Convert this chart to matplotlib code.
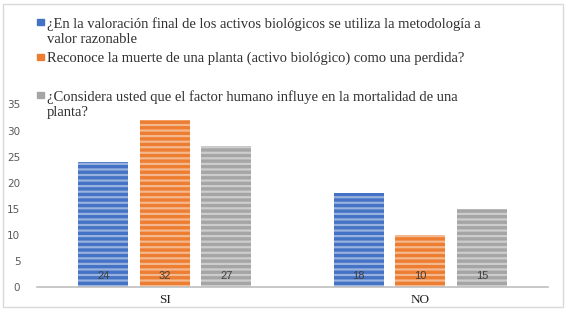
import numpy as np
import matplotlib.pyplot as plt
import matplotlib.patches as mpatches

# respuestas por pregunta
categories = ['SI', 'NO']
series = [
    '¿En la valoración final de los activos biológicos se utiliza la metodología a\nvalor razonable',
    'Reconoce la muerte de una planta (activo biológico) como una perdida?',
    '¿Considera usted que el factor humano influye en la mortalidad de una\nplanta?',
]
values = [
    [24, 18],
    [32, 10],
    [27, 15],
]
colors = ['#4472C4', '#ED7D31', '#A5A5A5']

plt.rcParams['hatch.linewidth'] = 1.6

fig = plt.figure(figsize=(5.66, 3.12), dpi=100)
fig.patches.append(mpatches.Rectangle((3 / 566, 5 / 312), 560 / 566, 303 / 312,
                                      transform=fig.transFigure, fill=False,
                                      edgecolor='#D9D9D9', linewidth=1))

ax = fig.add_axes([37 / 566, 1 - 287 / 312, 511 / 566, (287 - 104.5) / 312])

x = np.arange(len(categories))
width = 0.196
step = 0.241
for i, (vals, c) in enumerate(zip(values, colors)):
    pos = x + (i - 1) * step
    bars = ax.bar(pos, vals, width, color=c, edgecolor=(1, 1, 1, 0.45),
                  linewidth=0, hatch='---')
    for b, v in zip(bars, vals):
        ax.annotate(str(v), (b.get_x() + b.get_width() / 2, 0), xytext=(0, 4),
                    textcoords='offset points', ha='center', va='bottom',
                    fontsize=8, color='#404040', family='Liberation Sans')

ax.set_xlim(-0.5, 1.5)
ax.set_ylim(0, 35)
ax.set_yticks(range(0, 36, 5))
ax.set_xticks(x)
ax.set_xticklabels(categories, family='Liberation Serif', fontsize=9.5, color='#202020')
ax.tick_params(axis='y', length=0, labelsize=7.5, labelcolor='#595959', pad=12)
ax.tick_params(axis='x', length=0, pad=5)
for s in ['top', 'right', 'left']:
    ax.spines[s].set_visible(False)
ax.spines['bottom'].set_color('#BFBFBF')
ax.spines['bottom'].set_linewidth(1.2)

# leyenda
ys = [22, 57, 95]
for name, c, y in zip(series, colors, ys):
    fig.patches.append(mpatches.Rectangle((37 / 566, 1 - (y + 3) / 312), 7 / 566, 6 / 312,
                                          transform=fig.transFigure, color=c))
    fig.text(47 / 566, 1 - (y - 5) / 312, name, family='Liberation Serif', fontsize=10.5,
             color='#303030', va='top', ha='left', linespacing=1.18)

fig.savefig('out.png', dpi=100)
